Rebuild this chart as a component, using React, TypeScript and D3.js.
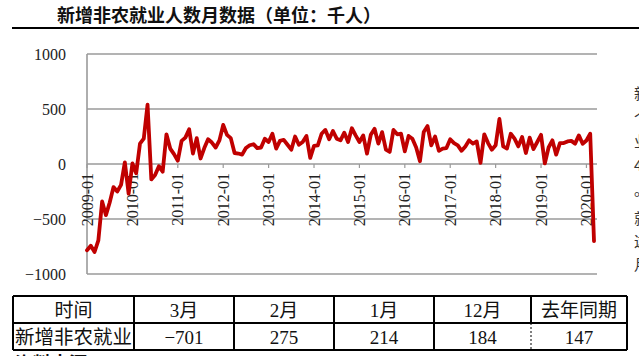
import React from "react";
import * as d3 from "d3";

const titleText = "新增非农就业人数月数据（单位：千人）";

const startYear = 2009;
// Monthly change in nonfarm payrolls, thousands, 2009-01 .. 2020-03
const values2009 = [-784, -743, -800, -695, -340, -465, -350, -210, -250, -190, 15, -270];
const values2010 = [5, -85, 185, 230, 540, -140, -100, -20, -70, 270, 140, 90];
const values2011 = [30, 210, 240, 315, 95, 235, 50, 145, 225, 195, 150, 215];
const values2012 = [355, 265, 235, 100, 95, 85, 145, 170, 180, 145, 150, 230];
const values2013 = [200, 275, 140, 210, 220, 175, 130, 250, 175, 200, 255, 55];
const values2014 = [165, 170, 275, 310, 225, 300, 230, 215, 285, 200, 325, 260];
const values2015 = [200, 260, 95, 265, 320, 185, 290, 130, 110, 310, 270, 275];
const values2016 = [115, 255, 230, 150, 25, 290, 345, 170, 250, 120, 140, 145];
const values2017 = [225, 190, 170, 120, 160, 215, 185, 205, 10, 270, 190, 130];
const values2018 = [170, 410, 160, 140, 275, 230, 160, 245, 100, 240, 135, 200];
const values2019 = [265, 5, 150, 215, 85, 190, 190, 205, 210, 185, 260, 184];
const values2020 = [214, 275, -701];

const payrolls = [
  ...values2009, ...values2010, ...values2011, ...values2012, ...values2013, ...values2014,
  ...values2015, ...values2016, ...values2017, ...values2018, ...values2019, ...values2020,
];

const months = payrolls.map((_, i) => {
  const y = startYear + Math.floor(i / 12);
  const m = (i % 12) + 1;
  return `${y}-${m < 10 ? "0" + m : m}`;
});

const xTickLabels = [
  "2009-01", "2010-01", "2011-01", "2012-01", "2013-01", "2014-01",
  "2015-01", "2016-01", "2017-01", "2018-01", "2019-01", "2020-01",
];
const yTicks = [-1000, -500, 0, 500, 1000];

const tableHeader = ["时间", "3月", "2月", "1月", "12月", "去年同期"];
const tableRow = ["新增非农就业", "−701", "275", "214", "184", "147"];

const sideChars = ["新", "个", "业", "4", "。", "就", "这", "月"];
const sideBaselines = [99, 123, 147, 171, 195, 224, 247, 270];

const W = 639;
const H = 356;
const plotLeft = 87;
const plotRight = 597;

export default function App() {
  const x = d3.scaleLinear().domain([0, payrolls.length - 1]).range([87, 594]);
  const y = d3.scaleLinear().domain([-1000, 1000]).range([274, 54]);
  const line = d3
    .line<number>()
    .x((_, i) => x(i))
    .y((d) => y(d))
    .curve(d3.curveLinear);

  const colX = [13, 134, 234, 334, 434, 531, 627];
  const rowY = [296, 323, 350];
  const serif = "'Liberation Serif', 'Noto Sans CJK SC', serif";

  return (
    <svg
      width={W}
      height={H}
      viewBox={`0 0 ${W} ${H}`}
      style={{ position: "absolute", left: 0, top: 0, background: "#fff" }}
    >
      <rect x={0} y={0} width={W} height={H} fill="#fff" />
      {/* Title */}
      <text
        x={57}
        y={22}
        fontFamily="'Noto Sans CJK SC', sans-serif"
        fontWeight={700}
        fontSize={18}
        fill="#111"
      >
        {titleText}
      </text>
      <line x1={12} x2={W} y1={28} y2={28} stroke="#000" strokeWidth={2} />

      {/* Grid */}
      {yTicks.map((t) => (
        <g key={t}>
          <line x1={plotLeft} x2={plotRight} y1={y(t)} y2={y(t)} stroke="#9a9a9a" strokeWidth={1.6} />
          <text
            x={66}
            y={y(t)}
            dy="0.35em"
            textAnchor="end"
            fontFamily={serif}
            fontSize={16}
            fill="#222"
          >
            {t < 0 ? "−" + Math.abs(t) : String(t)}
          </text>
        </g>
      ))}
      <line x1={plotLeft} x2={plotLeft} y1={y(1000)} y2={y(-1000)} stroke="#9a9a9a" strokeWidth={1.6} />

      {/* X ticks and labels */}
      {xTickLabels.map((lab) => {
        const idx = months.indexOf(lab);
        const xx = x(idx);
        return (
          <g key={lab}>
            <line x1={xx} x2={xx} y1={y(0)} y2={y(0) + 4} stroke="#9a9a9a" strokeWidth={1.2} />
            <text
              transform={`translate(${xx},${y(0) + 9}) rotate(-90)`}
              textAnchor="end"
              dy="0.35em"
              fontFamily={serif}
              fontSize={16}
              fill="#222"
            >
              {lab}
            </text>
          </g>
        );
      })}

      {/* Series */}
      <path
        d={line(payrolls) || ""}
        fill="none"
        stroke="#C00000"
        strokeWidth={3.8}
        strokeLinejoin="round"
        strokeLinecap="round"
      />

      {/* Side text (cut off at the page edge, as in the source) */}
      {sideChars.map((c, i) => (
        <text
          key={i}
          x={634}
          y={sideBaselines[i]}
          fontFamily="'Noto Sans CJK SC', sans-serif"
          fontSize={15}
          fill="#333"
        >
          {c}
        </text>
      ))}

      {/* Table */}
      <g>
        {rowY.map((ry) => (
          <line key={ry} x1={colX[0]} x2={colX[6]} y1={ry} y2={ry} stroke="#000" strokeWidth={2} />
        ))}
        {colX.map((cx, i) => (
          <g key={cx}>
            <line x1={cx} x2={cx} y1={rowY[0]} y2={rowY[1]} stroke="#000" strokeWidth={2} />
            <line
              x1={cx}
              x2={cx}
              y1={rowY[1]}
              y2={rowY[2]}
              stroke="#000"
              strokeWidth={i === 5 ? 1 : 2}
              strokeDasharray={i === 5 ? "2,2" : undefined}
            />
          </g>
        ))}
        {tableHeader.map((h, i) => (
          <text
            key={"h" + i}
            x={(colX[i] + colX[i + 1]) / 2}
            y={317}
            textAnchor="middle"
            fontFamily={serif}
            fontSize={19}
            fill="#111"
          >
            {h}
          </text>
        ))}
        {tableRow.map((v, i) => (
          <text
            key={"r" + i}
            x={i === 0 ? colX[0] + 2 : (colX[i] + colX[i + 1]) / 2}
            y={344}
            textAnchor={i === 0 ? "start" : "middle"}
            fontFamily={serif}
            fontSize={i === 0 ? 19.5 : 19}
            fill="#111"
          >
            {v}
          </text>
        ))}
      </g>
      <text x={15} y={370} fontFamily="'Noto Sans CJK SC', sans-serif" fontWeight={700} fontSize={18} fill="#111">
        资料来源：
      </text>
    </svg>
  );
}
